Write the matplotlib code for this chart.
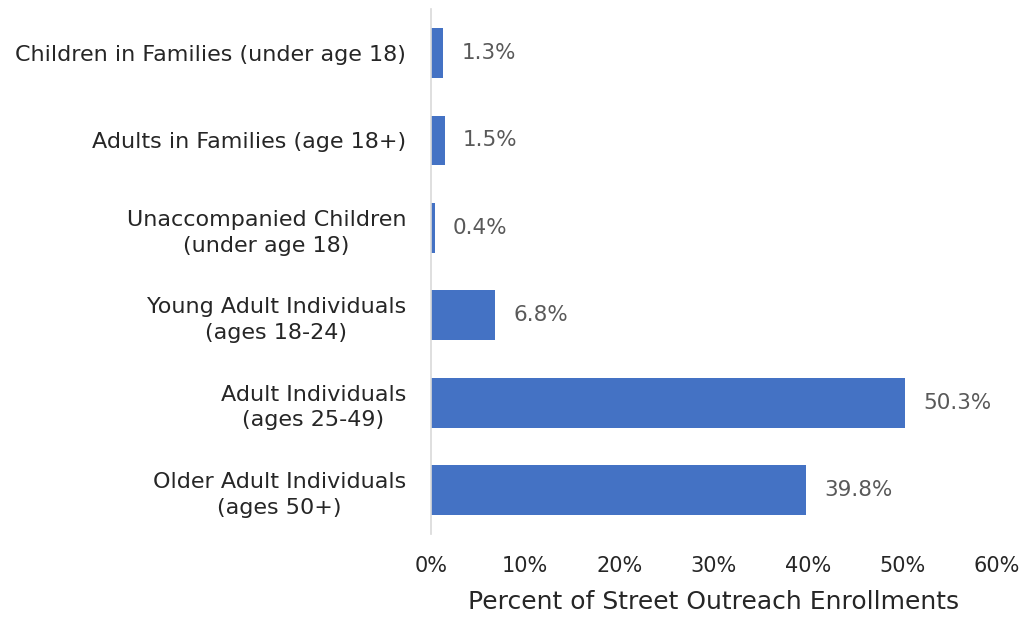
import matplotlib.pyplot as plt
from matplotlib.ticker import FuncFormatter

categories = [
    "Children in Families (under age 18)",
    "Adults in Families (age 18+)",
    "Unaccompanied Children\n(under age 18)",
    "Young Adult Individuals\n(ages 18-24)",
    "Adult Individuals\n(ages 25-49)",
    "Older Adult Individuals\n(ages 50+)",
]
percents = [1.3, 1.5, 0.4, 6.8, 50.3, 39.8]
x_ticks = [0, 10, 20, 30, 40, 50, 60]

plt.rcParams['font.family'] = ['DejaVu Sans']

fig = plt.figure(figsize=(10.19, 6.17), dpi=100)
ax = fig.add_axes([0.423, 0.1345, 0.555, 0.8505])

y = list(range(len(categories)))
ax.barh(y, percents, height=0.57, color='#4472C4')
ax.set_ylim(len(categories) - 0.5, -0.5)
ax.set_xlim(0, 60)

# etiketler: çubuğun sağına yüzde değeri
for yi, v in zip(y, percents):
    ax.text(v + 1.9, yi, f"{v:.1f}%", va='center', ha='left',
            fontsize=15.5, color='#595959')

ax.set_yticks(y)
ax.set_yticklabels(categories, fontsize=16, color='#262626', linespacing=1.35)
for lbl in ax.get_yticklabels():
    lbl.set_multialignment('center')
ax.set_xticks(x_ticks)
ax.xaxis.set_major_formatter(FuncFormatter(lambda v, p: f"{v:.0f}%"))
ax.tick_params(axis='x', labelsize=15, labelcolor='#262626', length=0, pad=16)
ax.tick_params(axis='y', length=0, pad=18)

for s in ['top', 'right', 'bottom']:
    ax.spines[s].set_visible(False)
ax.spines['left'].set_color('#D9D9D9')
ax.spines['left'].set_linewidth(1.2)

ax.set_xlabel("Percent of Street Outreach Enrollments", fontsize=18,
              color='#262626', labelpad=10)

fig.savefig("out.png", dpi=100)
